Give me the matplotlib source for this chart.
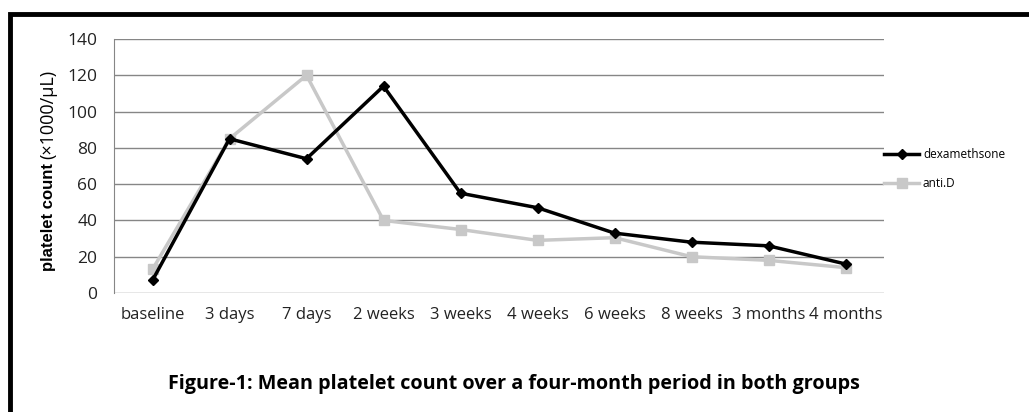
import matplotlib
matplotlib.use("Agg")
import matplotlib.pyplot as plt
from matplotlib.patches import Rectangle
import numpy as np

# data
categories = ["baseline", "3 days", "7 days", "2 weeks", "3 weeks",
              "4 weeks", "6 weeks", "8 weeks", "3 months", "4 months"]
dexamethasone = [7, 85, 74, 114, 55, 47, 33, 28, 26, 16]
anti_d = [13, 85, 120, 40, 35, 29, 30.5, 20, 18, 14]
y_ticks = [0, 20, 40, 60, 80, 100, 120, 140]

plt.rcParams["font.family"] = ["Open Sans", "DejaVu Sans"]

W, H = 1029, 412
fig = plt.figure(figsize=(W / 100, H / 100), dpi=100)
ax = fig.add_axes([114 / W, 1 - 293 / H, (884 - 114) / W, (293 - 39) / H])

x = np.arange(len(categories))
ax.plot(x, anti_d, color="#c8c8c8", lw=2.5, marker="s", ms=7, label="anti.D", zorder=3)
ax.plot(x, dexamethasone, color="black", lw=2.5, marker="D", ms=5, label="dexamethsone", zorder=4)

ax.set_xlim(-0.5, len(categories) - 0.5)
ax.set_ylim(0, 140)
ax.set_yticks(y_ticks)
ax.set_xticks(x)
ax.set_xticklabels(categories, fontsize=12, color="#222222")
ax.set_yticklabels([str(v) for v in y_ticks], fontsize=12.5, color="#222222")
ax.tick_params(axis="both", length=0)
ax.tick_params(axis="y", pad=12)
ax.tick_params(axis="x", pad=10)
ax.grid(axis="y", color="#868686", lw=1)
ax.set_axisbelow(True)
for s in ["top", "right", "bottom"]:
    ax.spines[s].set_visible(False)
ax.spines["left"].set_color("#868686")

# y label: bold words + regular unit, as in the reference
fig.text(48 / W, 1 - 163 / H, "platelet count", rotation=90, ha="center", va="top",
         fontsize=12, fontweight="bold", family=["Liberation Sans", "DejaVu Sans"])
fig.text(48 / W, 1 - 159 / H, "(\u00d71000/\u03bcL)", rotation=90, ha="center", va="bottom",
         fontsize=13, family=["Open Sans", "DejaVu Sans"])

handles, labels = ax.get_legend_handles_labels()
ax.legend(handles[::-1], labels[::-1], loc="center left", bbox_to_anchor=(1.0, (293 - 169) / 254),
          frameon=False, fontsize=8.5, handlelength=3, handletextpad=0.3,
          labelspacing=1.4, borderaxespad=0, borderpad=0)

fig.text(514 / W, 1 - 384 / H,
         "Figure-1: Mean platelet count over a four-month period in both groups",
         ha="center", va="center", fontsize=14.2, fontweight="bold")

# outer frame, clipped at the right and bottom like the reference
fig.patches.append(Rectangle((10 / W, -0.1), 1.2, 1 - 14 / H + 0.1, transform=fig.transFigure,
                             fill=False, edgecolor="black", lw=3.5))

fig.savefig("out.png", dpi=100)
